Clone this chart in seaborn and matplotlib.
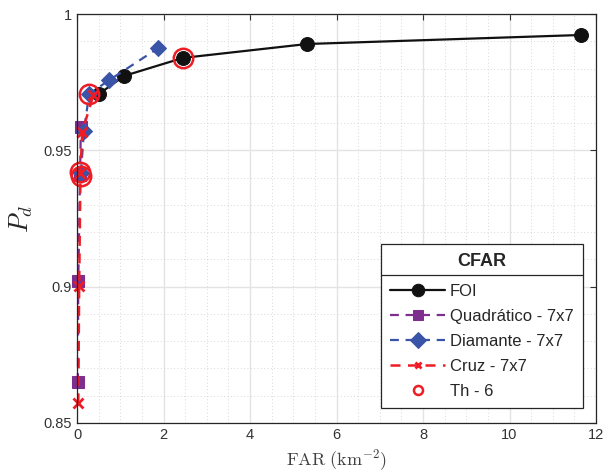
import numpy as np
import pandas as pd
import seaborn as sns
import matplotlib.pyplot as plt
from matplotlib.lines import Line2D
from matplotlib.ticker import MultipleLocator, FixedLocator

# dados
foi_far = [0.51, 1.09, 2.45, 5.32, 11.65]
foi_pd = [0.9707, 0.9773, 0.9839, 0.9890, 0.9923]

quad_far = [0.02, 0.03, 0.07, 0.09]
quad_pd = [0.865, 0.902, 0.9410, 0.9585]

diam_far = [0.09, 0.16, 0.28, 0.75, 1.87]
diam_pd = [0.9416, 0.9570, 0.9707, 0.9758, 0.9874]

cruz_far = [0.03, 0.05, 0.08, 0.12, 0.38]
cruz_pd = [0.8572, 0.9002, 0.9416, 0.9568, 0.9703]

th_far = [0.07, 0.09, 0.28, 2.45]
th_pd = [0.9420, 0.9405, 0.9707, 0.9839]

sns.set_style("white")
plt.rcParams['font.family'] = ['Liberation Sans', 'DejaVu Sans']
plt.rcParams['mathtext.fontset'] = 'cm'

fig = plt.figure(figsize=(6.06, 4.74), dpi=100)
graf = fig.add_axes([77/606, 1-423/474, (596-77)/606, (423-14)/474])

dash = (0, (4, 3))
#séries
sns.lineplot(x=foi_far, y=foi_pd, sort=False, ax=graf, color="#111111", lw=1.6,
             marker="o", markersize=10, markeredgecolor="#111111", label="FOI")
sns.lineplot(x=quad_far, y=quad_pd, sort=False, ax=graf, color="#7E2F8E", lw=1.6,
             linestyle=dash, marker="s", markersize=8,
             markeredgecolor="#7E2F8E", label="Quadrático - 7x7")
sns.lineplot(x=diam_far, y=diam_pd, sort=False, ax=graf, color="#3A54A8", lw=1.6,
             linestyle=dash, marker="D", markersize=8,
             markeredgecolor="#3A54A8", label="Diamante - 7x7")
sns.lineplot(x=cruz_far, y=cruz_pd, sort=False, ax=graf, color="#EE1C25", lw=1.8,
             linestyle=dash, marker="x", markersize=7, markeredgewidth=2,
             markeredgecolor="#EE1C25", label="Cruz - 7x7")
graf.plot(th_far, th_pd, linestyle="", marker="o", markersize=14, markerfacecolor="none",
          markeredgecolor="#EE1C25", markeredgewidth=1.8, label="Th - 6")
#marcadores não são cortados na borda (como no MATLAB)
for linha in graf.lines:
    linha.set_clip_on(False)

#eixos
graf.set_xlim(0, 12)
graf.set_ylim(0.85, 1.0)
graf.xaxis.set_major_locator(MultipleLocator(2))
graf.xaxis.set_minor_locator(MultipleLocator(0.5))
graf.yaxis.set_major_locator(FixedLocator([0.85, 0.9, 0.95, 1.0]))
graf.yaxis.set_minor_locator(MultipleLocator(0.01))
graf.set_yticklabels(["0.85", "0.9", "0.95", "1"])
graf.grid(which="major", color="#e3e3e3", lw=1.0, linestyle="-")
graf.grid(which="minor", color="#cccccc", lw=0.6, linestyle=(0, (1, 3)))
graf.set_axisbelow(True)
graf.tick_params(which="both", direction="in", top=True, right=True,
                 labelsize=10.5, colors="#333333", length=4)
graf.tick_params(which="minor", length=0)
for s in graf.spines.values():
    s.set_color("#262626")
    s.set_linewidth(0.9)

graf.set_xlabel(r"$\mathrm{FAR\ (km^{-2})}$", fontsize=13, color="#404040", labelpad=4)
graf.set_ylabel(r"$P_d$", fontsize=19, color="#262626", labelpad=6)

#legenda
leg = graf.legend(loc="lower right", bbox_to_anchor=(0.975, 0.037), title="CFAR",
                  fontsize=12, title_fontproperties={"weight": "bold", "size": 13},
                  handlelength=3.3, handletextpad=0.3, borderpad=0.55, labelspacing=0.6,
                  borderaxespad=0, fancybox=False, edgecolor="#262626", framealpha=1)
leg.get_frame().set_linewidth(0.9)
leg._legend_box.sep = 10
tamanhos = [9, 7, 8, 5, 6.5]
for h, ms in zip(leg.legend_handles, tamanhos):
    h.set_markersize(ms)

fig.canvas.draw()
tb = leg.get_title().get_window_extent()
fb = leg.get_frame().get_window_extent()
ysep = (tb.y0 - 5) / fig.bbox.height
fig.add_artist(Line2D([fb.x0 / fig.bbox.width, fb.x1 / fig.bbox.width], [ysep, ysep],
                      transform=fig.transFigure, color="#262626", lw=0.9))

fig.savefig("out.png", dpi=100)
